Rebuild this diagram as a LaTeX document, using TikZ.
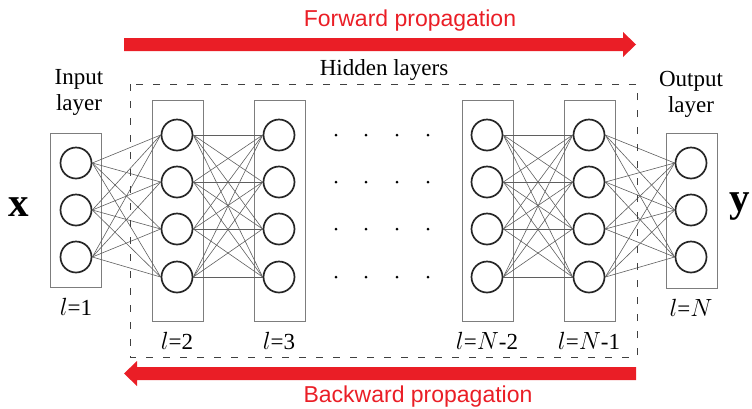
\documentclass[tikz,border=0pt]{standalone}
\usepackage{fontspec}
\setmainfont{Liberation Serif}
\newfontfamily\arialfont{Liberation Sans}
\usetikzlibrary{arrows.meta}
\definecolor{propred}{RGB}{234,30,38}
\definecolor{boxgray}{RGB}{125,125,125}
\definecolor{linkgray}{RGB}{95,95,95}
\tikzset{
  neuron/.style={circle,draw=black!85,line width=1.7pt,minimum size=31pt,inner sep=0pt},
  layerbox/.style={draw=boxgray,line width=0.9pt},
  link/.style={draw=linkgray,line width=0.6pt},
  hiddenframe/.style={draw=black!75,line width=1pt,dash pattern=on 7pt off 10pt},
  dotmark/.style={fill=black,circle,inner sep=0pt,minimum size=3pt},
  lbl/.style={font=\fontsize{23}{27}\selectfont,inner sep=0pt},
  proplbl/.style={font=\arialfont\fontsize{23}{27}\selectfont,text=propred,inner sep=0pt},
  propbar/.style={draw=none,fill=propred},
}
\begin{document}
\begin{tikzpicture}[x=1pt,y=-1pt]
\useasboundingbox (0,0) rectangle (752,408);

% layer frames
\draw[layerbox] (50,133) rectangle (101,287);
\draw[layerbox] (152,100) rectangle (203,321);
\draw[layerbox] (254,100) rectangle (305,321);
\draw[layerbox] (462,100) rectangle (513,321);
\draw[layerbox] (564,100) rectangle (615,321);
\draw[layerbox] (666,133) rectangle (717,288);

% neurons
\foreach \i/\y in {1/163,2/210,3/257} {
  \node[neuron] (in\i) at (76,\y) {};
  \node[neuron] (out\i) at (691,\y) {};
}
\foreach \i/\y in {1/135,2/182,3/229,4/277} {
  \node[neuron] (a\i) at (177,\y) {};
  \node[neuron] (b\i) at (279,\y) {};
  \node[neuron] (c\i) at (487,\y) {};
  \node[neuron] (d\i) at (589,\y) {};
}

% fully connected weights
\foreach \i in {1,2,3} \foreach \j in {1,2,3,4} {
  \draw[link] (in\i.east) -- (a\j.west);
  \draw[link] (d\j.east) -- (out\i.west);
}
\foreach \i in {1,2,3,4} \foreach \j in {1,2,3,4} {
  \draw[link] (a\i.east) -- (b\j.west);
  \draw[link] (c\i.east) -- (d\j.west);
}

% hidden layers frame
\draw[hiddenframe] (130,84) rectangle (637,357);
\node[lbl] (hid) at (384,70) {Hidden layers};

% ellipsis dots between hidden layers
\foreach \x in {336,366,397,428} \foreach \y in {135,182,229,277}
  \node[dotmark] at (\x,\y) {};

% layer titles
\node[lbl,align=center,font=\fontsize{23}{26}\selectfont] (inlbl) at (79,92) {Input\\layer};
\node[lbl,align=center,font=\fontsize{23}{26}\selectfont] (outlbl) at (691,94) {Output\\layer};

% layer indices
\node[lbl] (l1) at (76,307) {$l$=1};
\node[lbl] (l2) at (177,341) {$l$=2};
\node[lbl] (l3) at (279,341) {$l$=3};
\node[lbl] (l4) at (487,341) {$l$=$N$-2};
\node[lbl] (l5) at (589,341) {$l$=$N$-1};
\node[lbl] (l6) at (691,308) {$l$=$N$};

% input and output vectors
\node[font=\fontsize{41}{41}\selectfont\bfseries,inner sep=0pt] (xv) at (19,207) {x};
\node[font=\fontsize{41}{41}\selectfont\bfseries,inner sep=0pt] (yv) at (740,207) {y};

% propagation arrows
\fill[propbar] (124,38) -- (623,38) -- (623,32) -- (636,44.5) -- (623,57) -- (623,51) -- (124,51) -- cycle;
\node[proplbl] (fw) at (410,21) {Forward propagation};
\fill[propbar] (636,367) -- (137,367) -- (137,361) -- (124,373.5) -- (137,386) -- (137,380) -- (636,380) -- cycle;
\node[proplbl] (bw) at (418,397) {Backward propagation};
\end{tikzpicture}
\end{document}
